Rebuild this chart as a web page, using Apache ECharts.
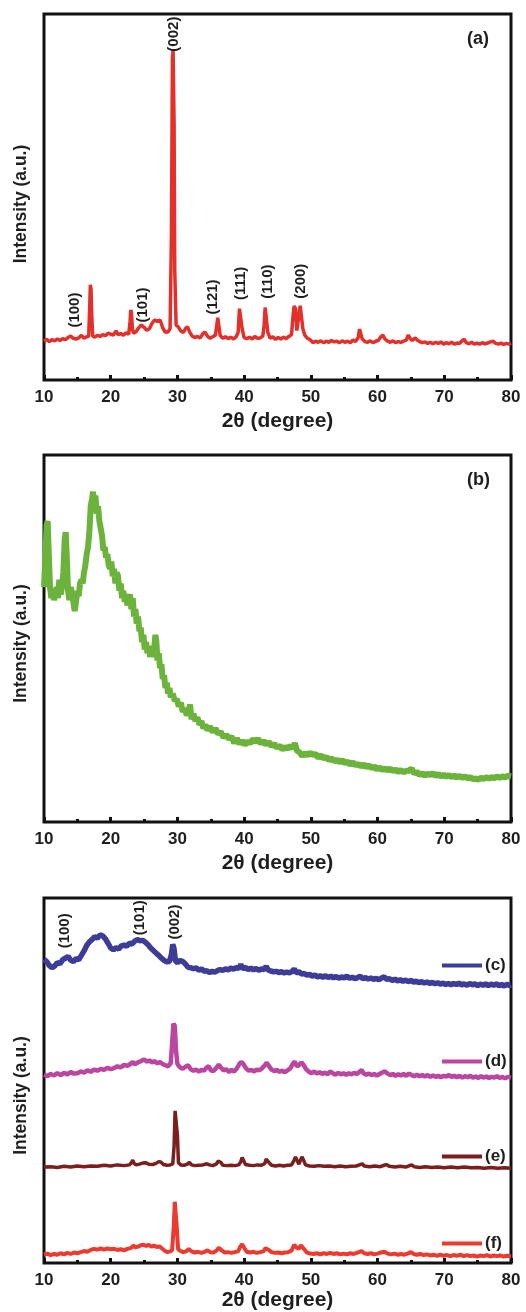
<!DOCTYPE html>
<html>
<head>
<meta charset="utf-8">
<script src="https://cdn.jsdelivr.net/npm/echarts@6/dist/echarts.min.js"></script>
<style>
html,body{margin:0;padding:0;background:#fff;}
#chart{width:526px;height:1312px;}
</style>
</head>
<body>
<div id="chart"></div>
<script>
// ---------- DATA ----------
const xRange = [10, 80];
const xTickInterval = 10;
const xAxisTitle = '2θ (degree)';
const yAxisTitle = 'Intensity (a.u.)';

// Panel (a): [2θ, intensity]
const seriesA = [
[10.0,10.6],[10.4,11.1],[10.8,10.5],[11.2,11.0],[11.6,10.7],[12.0,11.2],[12.4,10.8],[12.8,11.3],[13.2,11.0],[13.6,11.6],
[14.0,12.0],[14.4,11.4],[14.8,11.2],[15.2,11.5],[15.6,12.2],[16.0,11.4],[16.4,11.8],[16.7,12.0],[16.85,20],[16.95,26],
[17.05,25],[17.15,18],[17.3,12.0],[17.6,11.7],[18.0,12.2],[18.4,11.9],[18.8,12.4],[19.2,12.1],[19.6,12.8],[20.0,12.5],
[20.4,12.3],[20.8,13.4],[21.1,12.4],[21.5,12.7],[21.9,12.2],[22.3,12.9],[22.7,12.5],[22.9,16],[23.0,19.1],[23.1,18.5],
[23.25,14],[23.4,12.8],[23.8,13.2],[24.2,14.3],[24.6,15.0],[25.0,14.4],[25.4,13.6],[25.8,14.0],[26.2,15.5],[26.6,16.4],
[27.0,16.0],[27.4,16.4],[27.8,14.2],[28.2,13.0],[28.6,13.2],[28.9,14],[29.1,40],[29.25,88],[29.35,90],[29.5,70],
[29.6,30],[29.8,15],[30.1,14.6],[30.5,13.4],[30.9,13.0],[31.2,14.0],[31.5,14.6],[31.8,13.2],[32.2,12.0],[32.6,11.6],
[33.0,11.9],[33.4,11.5],[33.8,12.6],[34.1,13.1],[34.5,12.0],[34.9,11.4],[35.3,11.8],[35.7,12.3],[35.9,15],[36.05,17],
[36.2,16.5],[36.4,12.2],[36.8,11.4],[37.2,11.8],[37.6,11.3],[38.0,11.7],[38.4,11.2],[38.8,11.8],[39.1,13],[39.3,19.5],
[39.5,19.7],[39.7,14],[40.0,11.6],[40.4,11.3],[40.8,11.7],[41.2,11.2],[41.6,11.9],[42.0,11.4],[42.4,11.5],[42.8,12.0],
[43.0,15],[43.15,19.8],[43.35,19.5],[43.55,13],[43.9,11.4],[44.3,11.8],[44.7,11.1],[45.1,11.6],[45.5,11.2],[45.9,11.7],
[46.3,11.3],[46.7,11.9],[47.1,12.4],[47.35,18],[47.5,20.2],[47.7,19.5],[47.9,13.5],[48.15,14],[48.4,20.3],[48.6,20.5],
[48.8,14],[49.1,12.2],[49.5,11.4],[49.9,11.0],[50.3,10.2],[50.7,10.6],[51.1,10.3],[51.5,10.7],[51.9,10.2],[52.3,10.6],
[52.7,10.3],[53.1,10.8],[53.5,10.4],[53.9,10.6],[54.3,10.2],[54.7,10.7],[55.1,10.3],[55.5,10.6],[55.9,10.2],[56.3,10.9],
[56.7,10.5],[57.1,11.6],[57.3,13.9],[57.5,13.5],[57.7,11.2],[58.1,10.5],[58.5,10.3],[58.9,10.7],[59.3,10.2],[59.7,10.6],
[60.1,10.8],[60.5,11.8],[60.8,12.3],[61.1,11.2],[61.5,10.6],[61.9,10.3],[62.3,10.7],[62.7,10.2],[63.1,10.5],[63.5,10.3],
[63.9,10.6],[64.3,10.9],[64.6,12.3],[64.9,11.3],[65.2,10.8],[65.6,11.5],[65.9,11.0],[66.3,10.5],[66.7,10.2],[67.1,10.4],
[67.5,10.0],[67.9,10.3],[68.3,9.9],[68.7,10.3],[69.1,10.0],[69.5,10.4],[69.9,9.8],[70.3,10.2],[70.7,9.9],[71.1,10.3],
[71.5,9.8],[71.9,10.1],[72.3,10.0],[72.7,10.8],[73.0,11.1],[73.3,10.2],[73.7,9.9],[74.1,10.3],[74.5,9.8],[74.9,10.1],
[75.3,9.8],[75.7,10.2],[76.1,9.9],[76.5,10.1],[76.9,10.4],[77.3,10.6],[77.7,10.0],[78.1,9.8],[78.5,10.1],[78.9,9.7],
[79.3,10.0],[79.7,9.8],[80.0,10.0]
];

// Panel (b): [2θ, intensity]
const seriesB = [
[10.0,64],[10.2,72],[10.4,81],[10.55,82],[10.7,74],[10.9,64],[11.1,61],[11.3,62.5],[11.5,60.5],[11.7,62],
[11.9,64],[12.1,61],[12.3,66],[12.5,62],[12.7,64],[12.9,68],[13.1,77],[13.25,79],[13.4,73],[13.6,63],
[13.8,60.5],[14.0,64],[14.2,62],[14.4,60],[14.6,57.5],[14.8,60],[15.0,63],[15.2,61.5],[15.4,65],[15.6,66],
[15.8,65],[16.0,68],[16.2,70],[16.4,73],[16.6,75],[16.8,79],[17.0,86],[17.2,88],[17.35,90],[17.5,87],
[17.7,89],[17.9,84],[18.1,86],[18.3,82],[18.5,80],[18.7,78],[18.9,74],[19.1,75],[19.3,72],[19.5,73],
[19.7,70],[19.9,69],[20.1,71],[20.3,67],[20.5,69],[20.7,65],[20.9,68],[21.1,67],[21.3,63],[21.5,65],
[21.7,61],[21.9,63],[22.1,60],[22.3,62],[22.5,59],[22.7,61],[22.9,62],[23.1,58],[23.3,61],[23.5,56],
[23.7,58],[23.9,54],[24.1,56],[24.3,52],[24.5,53],[24.7,49],[24.9,51],[25.1,47],[25.3,49],[25.5,46],
[25.7,48],[25.9,45],[26.1,47],[26.3,45],[26.5,47],[26.7,51],[26.85,49],[27.0,44],[27.2,46],[27.4,42],
[27.6,43],[27.8,39],[28.0,40],[28.2,36.5],[28.4,38],[28.6,35],[28.8,36.5],[29.0,34],[29.3,35],[29.6,33],
[29.9,33.5],[30.2,31.5],[30.5,32.5],[30.8,30],[31.1,31],[31.4,29],[31.7,30.5],[31.9,32],[32.1,28],[32.4,29.5],
[32.7,27.5],[33.0,28.5],[33.3,26.5],[33.6,27.5],[33.9,25.5],[34.2,26.5],[34.5,25],[34.9,26],[35.3,24.5],[35.7,25.5],
[36.1,24],[36.5,24.6],[36.9,23],[37.3,23.8],[37.7,22.6],[38.1,23.3],[38.5,21.5],[38.9,22.8],[39.3,21.3],[39.7,22.2],
[40.1,21],[40.5,22],[40.9,21.4],[41.3,22.6],[41.7,21.8],[42.1,22.7],[42.5,21.3],[42.9,22.2],[43.3,21],[43.7,21.9],
[44.1,20.6],[44.5,21.4],[44.9,20.2],[45.3,20.9],[45.7,19.7],[46.1,20.5],[46.5,19.9],[46.9,20.8],[47.3,20.1],[47.6,21.5],
[47.9,19.5],[48.3,19.0],[48.7,18.0],[49.1,18.8],[49.5,18.1],[49.9,18.9],[50.3,18.2],[50.7,18.6],[51.1,17.5],[51.5,18.2],
[51.9,17.3],[52.3,17.8],[52.7,16.8],[53.1,17.4],[53.5,16.5],[53.9,17.0],[54.3,16.2],[54.7,16.9],[55.1,16.0],[55.5,16.5],
[55.9,15.6],[56.3,16.3],[56.7,15.4],[57.1,15.9],[57.5,15.1],[57.9,15.7],[58.3,14.9],[58.7,15.5],[59.1,14.6],[59.5,15.2],
[59.9,14.3],[60.3,14.9],[60.7,14.1],[61.1,14.7],[61.5,14.0],[61.9,14.6],[62.3,13.8],[62.7,14.3],[63.1,13.6],[63.5,14.2],
[63.9,13.5],[64.3,14.0],[64.7,13.9],[65.1,14.6],[65.5,13.2],[65.9,13.7],[66.3,12.8],[66.7,13.3],[67.1,12.6],[67.5,13.2],
[67.9,12.7],[68.3,13.4],[68.7,12.5],[69.1,13.1],[69.5,12.4],[69.9,12.9],[70.3,12.3],[70.7,12.8],[71.1,12.2],[71.5,12.7],
[71.9,12.1],[72.3,12.6],[72.7,12.0],[73.1,12.5],[73.5,11.8],[73.9,12.3],[74.3,11.6],[74.7,11.9],[75.1,11.5],[75.5,12.1],
[75.9,11.7],[76.3,12.2],[76.7,11.8],[77.1,12.3],[77.5,11.9],[77.9,12.4],[78.3,12.0],[78.7,12.5],[79.1,12.1],[79.5,12.6],
[80.0,12.4]
];

// Panel (c-f): [2θ, offset intensity]
const seriesC = [
[10.0,83.2],[10.4,82.6],[10.8,81.5],[11.2,80.9],[11.6,81.4],[12.0,82.3],[12.4,82.0],[12.8,83.1],[13.2,83.5],[13.6,84.0],
[14.0,83.0],[14.4,82.6],[14.8,83.4],[15.2,83.1],[15.6,84.3],[16.0,85.5],[16.4,87.0],[16.8,88.0],[17.2,88.6],[17.6,89.4],
[18.0,89.0],[18.4,89.9],[18.8,89.6],[19.2,88.8],[19.6,87.6],[20.0,86.3],[20.4,85.8],[20.8,86.4],[21.2,86.0],[21.6,86.9],
[22.0,87.1],[22.4,86.8],[22.8,87.6],[23.2,87.4],[23.6,88.2],[24.0,88.6],[24.4,88.3],[24.8,88.4],[25.2,87.9],[25.6,87.2],
[26.0,86.3],[26.4,85.6],[26.8,84.9],[27.2,84.3],[27.6,83.5],[28.0,82.9],[28.4,82.5],[28.8,82.6],[29.1,84.5],[29.3,87.3],
[29.5,86],[29.7,82.8],[30.0,82.3],[30.4,82.9],[30.8,82.6],[31.2,81.9],[31.6,81.0],[32.0,80.9],[32.4,80.6],[32.8,80.9],
[33.2,80.2],[33.6,80.6],[34.0,79.9],[34.4,80.1],[34.8,79.6],[35.2,79.9],[35.6,79.7],[36.0,80.1],[36.4,80.4],[36.8,80.2],
[37.2,80.6],[37.6,80.3],[38.0,80.8],[38.4,80.5],[38.8,80.9],[39.2,80.7],[39.5,81.8],[39.8,80.6],[40.2,81.0],[40.6,80.4],
[41.0,80.8],[41.4,80.3],[41.8,80.7],[42.2,80.2],[42.6,80.6],[43.0,80.4],[43.3,81.3],[43.6,80.3],[44.0,80.0],[44.4,79.8],
[44.8,79.9],[45.2,79.6],[45.6,79.8],[46.0,79.5],[46.4,79.7],[46.8,79.5],[47.2,79.9],[47.5,80.6],[47.8,79.5],[48.2,79.8],
[48.6,79.2],[49.0,79.3],[49.4,78.9],[49.8,79.1],[50.2,78.6],[50.6,78.9],[51.0,78.4],[51.4,78.7],[51.8,78.3],[52.2,78.7],
[52.6,78.2],[53.0,78.6],[53.4,78.1],[53.8,78.5],[54.2,78.0],[54.6,78.4],[55.0,78.1],[55.4,78.6],[55.8,78.0],[56.2,78.3],
[56.6,77.9],[57.0,78.2],[57.4,78.6],[57.8,77.9],[58.2,78.2],[58.6,77.8],[59.0,78.1],[59.4,77.7],[59.8,78.0],[60.2,77.6],
[60.6,78.1],[61.0,78.4],[61.4,77.7],[61.8,77.9],[62.2,77.4],[62.6,77.8],[63.0,77.3],[63.4,77.6],[63.8,77.2],[64.2,77.5],
[64.6,77.1],[65.0,77.4],[65.4,77.0],[65.8,77.2],[66.2,76.8],[66.6,77.1],[67.0,76.7],[67.4,77.0],[67.8,76.6],[68.2,76.9],
[68.6,76.5],[69.0,76.8],[69.4,76.4],[69.8,76.7],[70.2,76.3],[70.6,76.6],[71.0,76.2],[71.4,76.6],[71.8,76.3],[72.2,76.7],
[72.6,76.2],[73.0,76.5],[73.4,76.1],[73.8,76.6],[74.2,76.2],[74.6,76.5],[75.0,76.0],[75.4,76.4],[75.8,76.1],[76.2,76.5],
[76.6,76.0],[77.0,76.4],[77.4,76.1],[77.8,76.5],[78.2,76.0],[78.6,76.3],[79.0,75.9],[79.4,76.4],[79.8,76.0],[80.0,76.2]
];
const seriesD = [
[10.0,51.6],[10.5,51.2],[11.0,51.8],[11.5,51.4],[12.0,52.0],[12.5,51.5],[13.0,52.1],[13.5,51.7],[14.0,52.3],[14.5,51.9],
[15.0,52.0],[15.5,52.5],[16.0,52.2],[16.5,52.8],[17.0,52.4],[17.5,53.0],[18.0,52.7],[18.5,53.2],[19.0,52.9],[19.5,53.5],
[20.0,53.1],[20.5,53.4],[21.0,53.9],[21.5,53.6],[22.0,54.3],[22.5,54.0],[23.0,54.6],[23.3,55.1],[23.6,54.4],[24.0,54.9],
[24.5,55.3],[25.0,55.8],[25.4,55.2],[25.8,55.5],[26.2,55.0],[26.6,55.3],[27.0,54.7],[27.4,55.1],[27.8,54.5],[28.2,54.2],
[28.6,53.9],[29.0,54.8],[29.2,60],[29.4,65.6],[29.6,65],[29.8,58],[30.0,54.5],[30.4,53.6],[30.8,53.2],[31.2,53.8],
[31.6,54.2],[32.0,53.1],[32.4,52.7],[32.8,53.0],[33.2,52.5],[33.6,52.9],[34.0,52.7],[34.4,53.6],[34.7,53.9],[35.0,52.8],
[35.4,52.6],[35.8,53.4],[36.2,54.4],[36.5,53.6],[36.9,52.8],[37.3,53.1],[37.7,52.4],[38.1,52.9],[38.5,52.5],[38.9,53.3],
[39.3,54.6],[39.6,55.1],[39.9,54.5],[40.3,53.3],[40.7,52.7],[41.1,52.9],[41.5,52.5],[41.9,53.0],[42.3,52.8],[42.7,53.4],
[43.1,54.2],[43.4,54.9],[43.7,54.0],[44.1,53.0],[44.5,52.6],[44.9,52.9],[45.3,52.4],[45.7,52.7],[46.1,52.3],[46.5,52.8],
[46.9,53.3],[47.3,54.6],[47.6,55.2],[47.9,53.9],[48.2,54.2],[48.6,55.0],[48.9,54.3],[49.3,53.1],[49.7,52.4],[50.1,52.0],
[50.5,52.5],[50.9,51.9],[51.3,52.3],[51.7,51.8],[52.1,52.2],[52.5,51.7],[52.9,52.5],[53.3,52.0],[53.7,51.6],[54.1,52.1],
[54.5,51.7],[54.9,52.0],[55.3,51.6],[55.7,52.0],[56.1,51.7],[56.5,52.1],[56.9,51.8],[57.3,52.4],[57.6,52.9],[57.9,52.0],
[58.3,51.6],[58.7,51.9],[59.1,51.5],[59.5,51.8],[59.9,51.4],[60.3,51.8],[60.7,52.2],[61.1,52.5],[61.5,51.9],[61.9,51.5],
[62.3,51.8],[62.7,51.3],[63.1,51.7],[63.5,51.4],[63.9,51.8],[64.3,51.3],[64.7,51.9],[65.1,51.5],[65.5,51.2],[65.9,51.6],
[66.3,51.2],[66.7,51.5],[67.1,51.1],[67.5,51.5],[67.9,51.0],[68.3,51.4],[68.7,51.0],[69.1,51.3],[69.5,50.9],[69.9,51.3],
[70.3,51.1],[70.7,51.5],[71.1,51.0],[71.5,51.3],[71.9,50.9],[72.3,51.3],[72.7,50.8],[73.1,51.2],[73.5,50.9],[73.9,51.3],
[74.3,50.8],[74.7,51.1],[75.1,50.7],[75.5,51.2],[75.9,50.8],[76.3,51.1],[76.7,50.7],[77.1,51.0],[77.5,50.8],[77.9,51.2],
[78.3,50.7],[78.7,51.0],[79.1,50.6],[79.5,51.0],[80.0,50.8]
];
const seriesE = [
[10.0,26.3],[11.0,26.4],[12.0,26.2],[13.0,26.5],[14.0,26.3],[15.0,26.6],[16.0,26.4],[17.0,26.6],[18.0,26.5],[19.0,26.8],
[20.0,26.6],[21.0,26.9],[22.0,26.7],[22.8,26.9],[23.1,27.5],[23.3,28.2],[23.5,27.3],[23.8,26.9],[24.3,27.1],[24.8,27.4],
[25.2,27.5],[25.7,27.1],[26.3,27.0],[26.8,27.3],[27.2,27.8],[27.5,27.7],[27.9,27.0],[28.4,26.8],[28.9,26.9],[29.3,27.2],
[29.5,32],[29.65,41.7],[29.85,41.5],[30.0,35],[30.15,27.5],[30.5,26.9],[31.0,26.8],[31.5,27.1],[31.8,27.6],[32.1,26.9],
[32.6,26.7],[33.2,26.8],[33.8,26.9],[34.4,27.2],[34.8,26.9],[35.3,26.7],[35.8,27.1],[36.1,27.9],[36.3,28.2],[36.5,27.6],
[36.8,26.8],[37.4,26.7],[38.0,26.8],[38.6,26.7],[39.2,26.9],[39.5,27.8],[39.7,28.9],[39.9,28.6],[40.2,27.0],[40.8,26.8],
[41.4,26.7],[42.0,26.9],[42.6,26.8],[43.1,27.3],[43.3,28.5],[43.5,28.7],[43.7,27.6],[44.1,26.8],[44.7,26.6],[45.3,26.8],
[45.9,26.6],[46.5,26.8],[47.1,26.9],[47.5,28.2],[47.7,29.1],[47.9,28.8],[48.2,27.1],[48.5,28.4],[48.7,29.1],[48.9,28.6],
[49.2,26.9],[49.8,26.6],[50.5,26.5],[51.2,26.7],[52.0,26.5],[52.8,26.6],[53.6,26.4],[54.4,26.6],[55.2,26.4],[56.0,26.5],
[56.8,26.6],[57.4,27.0],[57.7,27.2],[58.0,26.6],[58.8,26.4],[59.6,26.6],[60.4,26.4],[61.0,26.8],[61.3,27.0],[61.8,26.5],
[62.6,26.3],[63.4,26.5],[64.2,26.3],[64.8,26.7],[65.1,26.9],[65.5,26.4],[66.3,26.2],[67.2,26.4],[68.1,26.2],[69.0,26.3],
[70.0,26.1],[71.0,26.3],[72.0,26.1],[73.0,26.3],[74.0,26.1],[75.0,26.2],[76.0,26.0],[77.0,26.2],[78.0,26.0],[79.0,26.1],
[80.0,26.0]
];
const seriesF = [
[10.0,2.3],[10.5,2.6],[11.0,2.2],[11.5,2.5],[12.0,2.3],[12.5,2.7],[13.0,2.4],[13.5,2.8],[14.0,2.5],[14.5,2.9],
[15.0,2.7],[15.5,3.0],[16.0,3.3],[16.5,3.1],[17.0,3.6],[17.5,3.9],[18.0,3.7],[18.5,4.0],[19.0,3.7],[19.5,4.0],
[20.0,3.8],[20.5,3.9],[21.0,3.6],[21.5,3.8],[22.0,3.5],[22.5,3.9],[23.0,4.1],[23.4,4.8],[23.7,4.3],[24.1,4.5],
[24.5,4.9],[24.9,5.0],[25.3,4.7],[25.7,5.0],[26.1,4.5],[26.5,4.8],[26.9,4.4],[27.3,4.6],[27.7,4.0],[28.1,3.4],
[28.5,3.0],[28.9,3.2],[29.2,3.5],[29.45,10],[29.6,16.8],[29.75,16.5],[29.9,10],[30.1,3.8],[30.5,3.3],[30.9,3.0],
[31.3,3.2],[31.7,3.9],[32.1,3.2],[32.6,2.9],[33.1,3.1],[33.6,2.8],[34.1,3.1],[34.5,3.5],[34.9,3.0],[35.4,2.9],
[35.9,3.5],[36.2,4.2],[36.4,4.4],[36.7,3.4],[37.1,2.9],[37.6,3.0],[38.1,2.8],[38.6,3.0],[39.1,3.2],[39.4,4.5],
[39.7,5.2],[40.0,4.2],[40.4,3.1],[40.9,2.9],[41.4,3.1],[41.9,2.8],[42.4,3.0],[42.9,3.2],[43.2,4.1],[43.4,4.6],
[43.7,3.6],[44.1,3.0],[44.6,2.8],[45.1,2.9],[45.6,2.7],[46.1,2.9],[46.6,3.0],[47.1,3.4],[47.5,5.0],[47.7,5.4],
[47.9,4.2],[48.2,3.9],[48.5,4.9],[48.7,5.0],[49.0,3.8],[49.4,2.9],[49.9,2.6],[50.4,2.5],[50.9,2.7],[51.4,2.4],
[51.9,2.7],[52.4,2.5],[52.9,2.8],[53.4,2.5],[53.9,2.7],[54.4,2.4],[54.9,2.6],[55.4,2.4],[55.9,2.7],[56.4,2.5],
[56.9,2.8],[57.3,3.1],[57.6,3.3],[58.0,2.7],[58.5,2.5],[59.0,2.7],[59.5,2.4],[60.0,2.6],[60.5,2.9],[61.0,3.1],
[61.5,2.6],[62.0,2.4],[62.5,2.6],[63.0,2.3],[63.5,2.5],[64.0,2.3],[64.5,2.6],[65.0,3.0],[65.4,2.5],[65.9,2.3],
[66.4,2.5],[66.9,2.2],[67.4,2.4],[67.9,2.1],[68.4,2.3],[68.9,2.0],[69.4,2.3],[69.9,2.0],[70.4,2.2],[70.9,1.9],
[71.4,2.2],[71.9,2.0],[72.4,2.3],[72.9,1.9],[73.4,2.2],[73.9,1.9],[74.4,2.1],[74.9,1.8],[75.4,2.1],[75.9,1.9],
[76.4,2.2],[76.9,1.8],[77.4,2.1],[77.9,1.9],[78.4,2.1],[78.9,1.8],[79.4,2.0],[80.0,1.9]
];

// Miller-index annotations: [2θ, intensity, text]
const labelsA = [[14.6,19.1,'(100)'],[24.8,20.5,'(101)'],[29.5,94.5,'(002)'],[35.3,22.7,'(121)'],[39.5,26.4,'(111)'],[43.5,26.9,'(110)'],[48.5,27.0,'(200)']];
const labelsC = [[13.1,91.0,'(100)'],[24.4,94.6,'(101)'],[29.6,93.4,'(002)']];
const legendNames = ['(c)','(d)','(e)','(f)'];
const panelTags = ['(a)','(b)'];

// ---------- STYLE / LAYOUT ----------
const FONT = '"Liberation Sans", Arial, sans-serif';
const TXT = '#1e1e1e';
const grids = [
  {left:44, top:14, width:467, height:366},
  {left:44, top:455, width:467, height:367},
  {left:44, top:898, width:467, height:369}
];
const nameGaps = [31, 31, 24];
const yNameShift = [14, 10, 30];

function xAx(i){
  return {
    type:'value', gridIndex:i, min:xRange[0], max:xRange[1], interval:xTickInterval,
    name:xAxisTitle, nameLocation:'middle', nameGap:nameGaps[i],
    nameTextStyle:{fontFamily:FONT, fontWeight:'bold', fontSize:21, color:TXT},
    axisLine:{show:false},
    axisTick:{show:true, inside:true, length:5, lineStyle:{color:'#111', width:3}},
    minorTick:{show:true, splitNumber:2, length:3, lineStyle:{color:'#111', width:3}},
    splitLine:{show:false},
    axisLabel:{fontFamily:FONT, fontWeight:'bold', fontSize:17, color:TXT, margin:9}
  };
}
function yAx(i){
  return {
    type:'value', gridIndex:i, min:0, max:100,
    name:yAxisTitle, nameLocation:'middle', nameGap:14,
    nameTextStyle:{fontFamily:FONT, fontWeight:'bold', fontSize:17.5, color:TXT, padding:[0, yNameShift[i], 0, 0]},
    axisLine:{show:false}, axisTick:{show:false}, axisLabel:{show:false}, splitLine:{show:false}
  };
}
function lineS(name, data, idx, color, width){
  return {name:name, type:'line', xAxisIndex:idx, yAxisIndex:idx, data:data, showSymbol:false,
    symbol:'none', smooth:false, lineStyle:{color:color, width:width}, itemStyle:{color:color},
    emphasis:{disabled:true}, silent:true, z:3};
}

const colors = {a:'#e3302b', b:'#6cb33c', c:'#3d3c98', d:'#bb469f', e:'#7a1e1e', f:'#ec3a2f'};
const legendTops = [952, 1048, 1143, 1230];

const baseGraphic = [
  {type:'text', left:467, top:30, style:{text:panelTags[0], font:'bold 18px '+FONT, fill:TXT}},
  {type:'text', left:467, top:471, style:{text:panelTags[1], font:'bold 18px '+FONT, fill:TXT}}
];

const option = {
  animation:false,
  backgroundColor:'#fff',
  grid: grids.map(g=>Object.assign({show:true, borderColor:'#111', borderWidth:3, backgroundColor:'#fff'}, g)),
  xAxis: [xAx(0), xAx(1), xAx(2)],
  yAxis: [yAx(0), yAx(1), yAx(2)],
  legend: legendNames.map((n,i)=>({
    data:[n], left:437, top:legendTops[i], orient:'horizontal', selectedMode:false,
    icon:'rect', itemWidth:40, itemHeight:4, itemGap:0,
    textStyle:{fontFamily:FONT, fontWeight:'bold', fontSize:17, color:TXT, padding:[0,0,0,-2]}
  })),
  graphic: baseGraphic,
  series: [
    lineS('a', seriesA, 0, colors.a, 3.5),
    lineS('b', seriesB, 1, colors.b, 6),
    lineS(legendNames[0], seriesC, 2, colors.c, 5.5),
    lineS(legendNames[1], seriesD, 2, colors.d, 4.5),
    lineS(legendNames[2], seriesE, 2, colors.e, 3.5),
    lineS(legendNames[3], seriesF, 2, colors.f, 4)
  ]
};
const chart = echarts.init(document.getElementById('chart'), null, {renderer:'canvas'});
chart.setOption(option);

// Miller-index labels placed through the axes' own scales
function annot(list, gi){
  return list.map(d=>{
    const p = chart.convertToPixel({gridIndex:gi}, [d[0], d[1]]);
    return {type:'text', x:p[0], y:p[1], rotation:Math.PI/2, z:10,
      style:{text:d[2], font:'bold 15px '+FONT, fill:TXT, align:'center', verticalAlign:'middle'}};
  });
}
chart.setOption({graphic: baseGraphic.concat(annot(labelsA,0), annot(labelsC,2))}, {replaceMerge:['graphic']});
</script>
</body>
</html>
